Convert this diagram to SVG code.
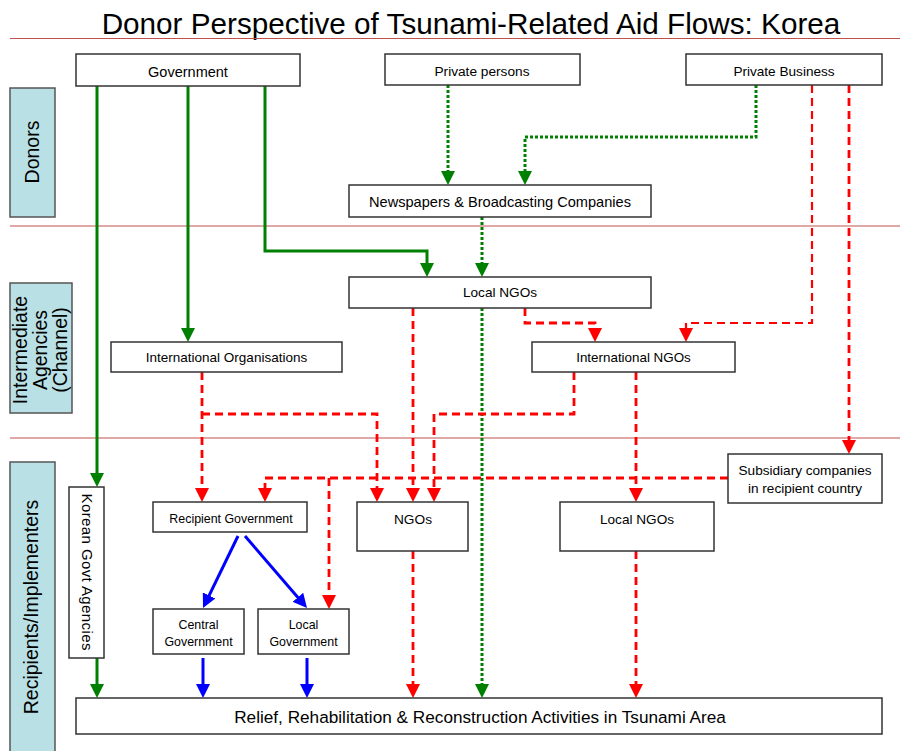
<svg xmlns="http://www.w3.org/2000/svg" width="907" height="751" viewBox="0 0 907 751">
<style>
text{font-family:"Liberation Sans",Arial,sans-serif;fill:#000;text-anchor:middle}
.box{fill:#fff;stroke:#333;stroke-width:1.5}
.side{fill:#b9e0e5;stroke:#555;stroke-width:1.5}
.sep{stroke:#c0504d;stroke-width:1.2;fill:none}
.t{font-size:13.6px}
.sl{font-size:19.5px}
.g{stroke:#008000;stroke-width:3;fill:none;marker-end:url(#ag)}
.gd{stroke:#008000;stroke-width:3;fill:none;stroke-dasharray:3 2;marker-end:url(#ag)}
.r{stroke:#ff0000;stroke-width:2.8;fill:none;stroke-dasharray:8 5;marker-end:url(#ar)}
.rt{stroke-width:2.2}
.b{stroke:#0000ff;stroke-width:3;fill:none;marker-end:url(#ab)}
</style>
<defs>
<marker id="ag" markerUnits="userSpaceOnUse" markerWidth="14" markerHeight="14" refX="6" refY="7" orient="auto"><path d="M0,0 L14,7 L0,14 z" fill="#008000"/></marker>
<marker id="ar" markerUnits="userSpaceOnUse" markerWidth="14" markerHeight="14" refX="6" refY="7" orient="auto"><path d="M0,0 L14,7 L0,14 z" fill="#ff0000"/></marker>
<marker id="ab" markerUnits="userSpaceOnUse" markerWidth="14" markerHeight="14" refX="6" refY="7" orient="auto"><path d="M0,0 L14,7 L0,14 z" fill="#0000ff"/></marker>
</defs>
<rect width="907" height="751" fill="#fff"/>
<text x="471" y="34" style="font-size:29.7px">Donor Perspective of Tsunami-Related Aid Flows: Korea</text>
<g id="separators">
<line class="sep" x1="10" y1="38.5" x2="900" y2="38.5"/>
<line class="sep" x1="10" y1="226" x2="900" y2="226"/>
<line class="sep" x1="10" y1="438" x2="900" y2="438"/>
</g>
<g id="lane-donors">
<rect class="side" x="10" y="88" width="45" height="129"/>
<text class="sl" transform="translate(39,152) rotate(-90)">Donors</text>
</g>
<g id="lane-intermediate">
<rect class="side" x="10" y="283" width="62" height="130"/>
<text class="sl" transform="translate(27,350) rotate(-90)">Intermediate</text>
<text class="sl" transform="translate(47,350) rotate(-90)">Agencies</text>
<text class="sl" transform="translate(67,350) rotate(-90)">(Channel)</text>
</g>
<g id="lane-recipients">
<rect class="side" x="10" y="462" width="45" height="300"/>
<text class="sl" transform="translate(38,607) rotate(-90)">Recipients/Implementers</text>
</g>
<g id="connectors">
<path class="g" d="M97,86 V479"/>
<path class="g" d="M97,658 V690"/>
<path class="g" d="M188,86 V334"/>
<path class="g" d="M265,86 V251 H427 V269"/>
<path class="gd" d="M448,85 V177"/>
<path class="gd" d="M756,85 V137 H525 V177"/>
<path class="gd" d="M482,217 V269"/>
<path class="gd" d="M482,308 V690"/>
<path class="r rt" d="M812,85 V323 H686 V334"/>
<path class="r" d="M849,85 V446"/>
<path class="r" d="M525,308 V323 H595 V334"/>
<path class="r" d="M413,308 V494"/>
<path class="r" d="M202,372 V494"/>
<path class="r" d="M202,414 H377 V494"/>
<path class="r" d="M574,372 V414 H434 V494"/>
<path class="r" d="M636,372 V494"/>
<path class="r" d="M728,478 H265 V494"/>
<path class="r" d="M329,478 V601"/>
<path class="r" d="M413,551 V690"/>
<path class="r" d="M636,551 V690"/>
<path class="b" d="M238,536 L206.5,600.8"/>
<path class="b" d="M245,536 L301.8,601.9"/>
<path class="b" d="M203,658 V690"/>
<path class="b" d="M307,658 V690"/>
</g>
<g id="government">
<rect class="box" x="76" y="54" width="224" height="32"/>
<text x="188" y="77" style="font-size:14.5px">Government</text>
</g>
<g id="private-persons">
<rect class="box" x="385" y="54" width="195" height="31"/>
<text x="482" y="76" style="font-size:13.7px">Private persons</text>
</g>
<g id="private-business">
<rect class="box" x="686" y="54" width="196" height="31"/>
<text x="784" y="76" style="font-size:13.6px">Private Business</text>
</g>
<g id="newspapers">
<rect class="box" x="349" y="185" width="302" height="32"/>
<text x="500" y="207" style="font-size:14.6px">Newspapers &amp; Broadcasting Companies</text>
</g>
<g id="local-ngos-int">
<rect class="box" x="349" y="277" width="302" height="31"/>
<text class="t" x="500" y="297">Local NGOs</text>
</g>
<g id="international-organisations">
<rect class="box" x="111" y="342" width="231" height="30"/>
<text x="226.5" y="362" style="font-size:13.5px">International Organisations</text>
</g>
<g id="international-ngos">
<rect class="box" x="532" y="342" width="203" height="30"/>
<text x="633.5" y="362" style="font-size:13.4px">International NGOs</text>
</g>
<g id="subsidiary-companies">
<rect class="box" x="728" y="454" width="154" height="49"/>
<text class="t" x="805" y="475">Subsidiary companies</text>
<text class="t" x="805" y="493">in recipient country</text>
</g>
<g id="korean-govt-agencies">
<rect class="box" x="69" y="487" width="35" height="171"/>
<text transform="translate(82,572) rotate(90)" style="font-size:15px" textLength="157" lengthAdjust="spacing">Korean Govt Agencies</text>
</g>
<g id="recipient-government">
<rect class="box" x="153" y="502" width="154" height="30"/>
<text x="231" y="523" style="font-size:12.4px">Recipient Government</text>
</g>
<g id="ngos">
<rect class="box" x="357" y="502" width="111" height="49"/>
<text x="413" y="524" style="font-size:13.7px">NGOs</text>
</g>
<g id="local-ngos-rec">
<rect class="box" x="560" y="502" width="154" height="49"/>
<text class="t" x="637" y="524">Local NGOs</text>
</g>
<g id="central-government">
<rect class="box" x="153" y="609" width="91" height="45"/>
<text x="198.5" y="629" style="font-size:12.4px">Central</text>
<text x="198.5" y="646" style="font-size:12.4px">Government</text>
</g>
<g id="local-government">
<rect class="box" x="258" y="609" width="91" height="45"/>
<text x="303.5" y="629" style="font-size:12.4px">Local</text>
<text x="303.5" y="646" style="font-size:12.4px">Government</text>
</g>
<g id="relief">
<rect class="box" x="76" y="698" width="806" height="36"/>
<text x="480" y="723" style="font-size:17.2px">Relief, Rehabilitation &amp; Reconstruction Activities in Tsunami Area</text>
</g>
</svg>
